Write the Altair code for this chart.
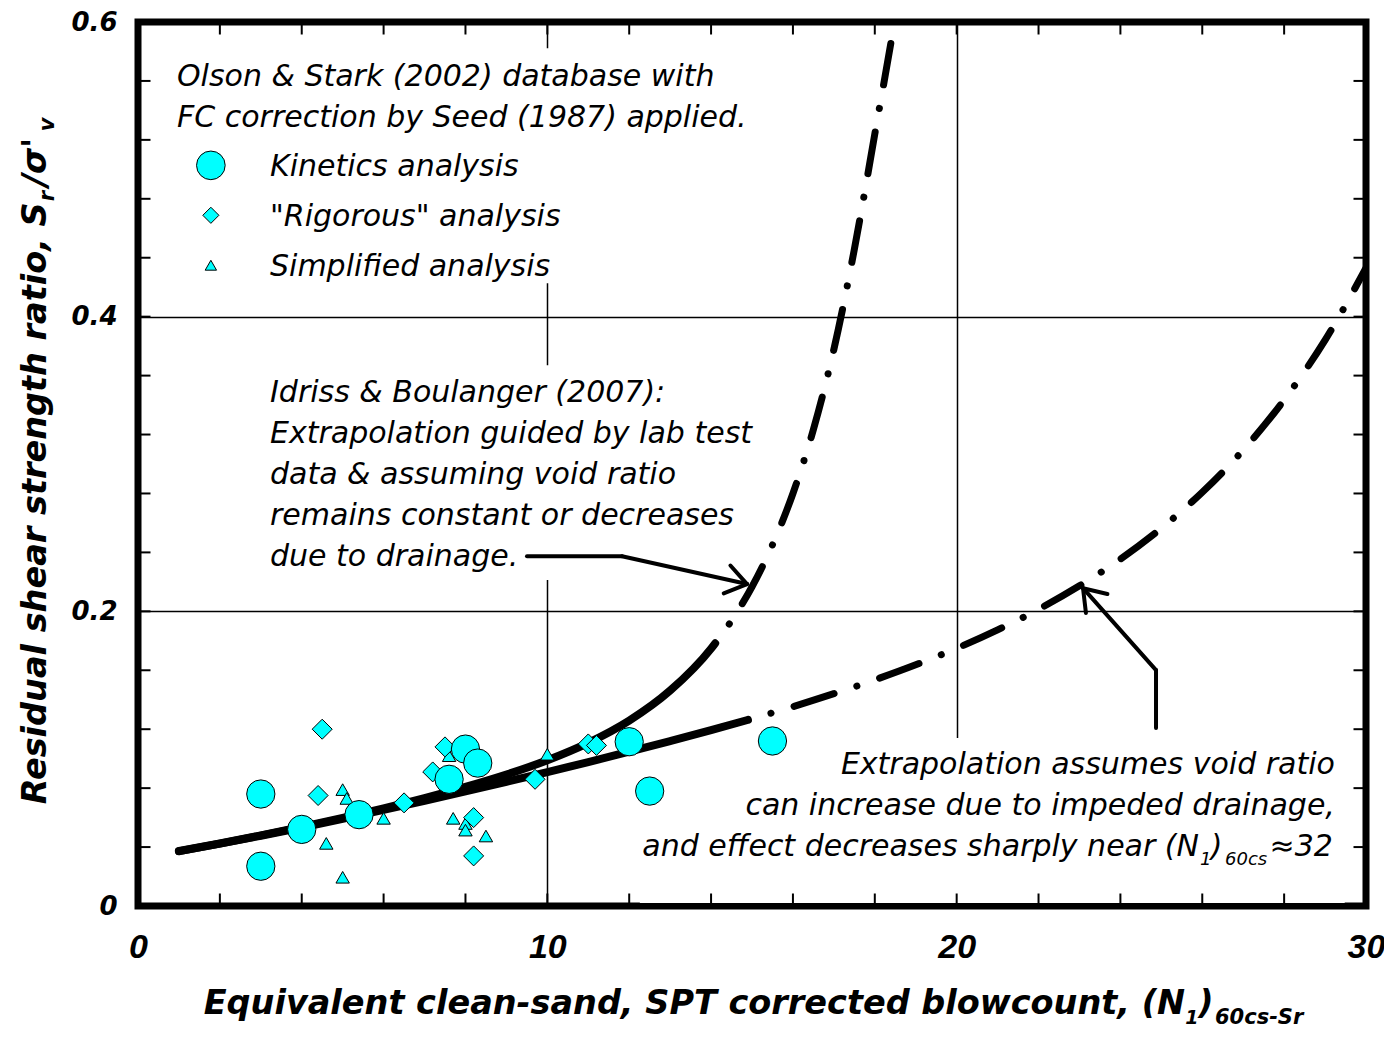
import altair as alt
import pandas as pd

# ---------------- values ----------------
series_names = ["Kinetics analysis", "\"Rigorous\" analysis", "Simplified analysis"]
series_shapes = ["circle", "diamond", "triangle-up"]

kin_x = [3.0, 3.0, 4.0, 5.4, 7.6, 8.0, 8.3, 12.0, 12.5, 15.5]
kin_y = [0.076, 0.027, 0.052, 0.062, 0.086, 0.1065, 0.097, 0.1115, 0.078, 0.112]
rig_x = [4.5, 4.4, 6.5, 7.2, 7.5, 8.2, 8.2, 9.7, 11.0, 11.2]
rig_y = [0.120, 0.075, 0.070, 0.091, 0.108, 0.060, 0.034, 0.086, 0.110, 0.109]
sim_x = [5.0, 5.1, 4.6, 5.0, 6.0, 7.6, 7.7, 8.0, 8.0, 8.5, 10.0]
sim_y = [0.079, 0.073, 0.0425, 0.0195, 0.0595, 0.102, 0.0595, 0.056, 0.0515, 0.0475, 0.103]

# Idriss & Boulanger (2007) curves
low_solid_x = [1, 2, 3, 4, 5, 6, 7, 8, 9, 10, 11, 12, 13, 14, 14.9]
low_solid_y = [0.0372, 0.0423, 0.0477, 0.0533, 0.0592, 0.0652, 0.0714, 0.0778, 0.0843,
               0.0909, 0.0977, 0.1047, 0.1119, 0.1193, 0.1263]
low_dash_x = [14.9, 16, 17, 18, 19, 20, 21, 22, 23, 24, 25, 26, 27, 28, 29, 30]
low_dash_y = [0.1263, 0.1353, 0.1441, 0.1535, 0.1637, 0.1749, 0.1874, 0.2014, 0.2173,
              0.2354, 0.2564, 0.2808, 0.3095, 0.3435, 0.3841, 0.4330]
up_solid_x = [1, 2, 3, 4, 5, 6, 7, 8, 9, 10, 11, 12, 13, 14, 14.1]
up_solid_y = [0.0373, 0.0424, 0.0479, 0.0537, 0.0598, 0.0663, 0.0732, 0.0808, 0.0892,
              0.0989, 0.1107, 0.1258, 0.1462, 0.1747, 0.1783]
up_dash_x = [14.1, 14.5, 15, 15.5, 16, 16.5, 17, 17.5, 17.75, 18, 18.25, 18.5]
up_dash_y = [0.1783, 0.1937, 0.2167, 0.2451, 0.2800, 0.3234, 0.3778, 0.4457, 0.4840,
             0.5240, 0.5630, 0.6030]

x_label_vals = [0, 10, 20, 30]
y_label_vals = [0, 0.2, 0.4, 0.6]
x_minor_ticks = [2, 4, 6, 8, 10, 12, 14, 16, 18, 20, 22, 24, 26, 28]
y_minor_ticks = [0.04, 0.08, 0.12, 0.16, 0.20, 0.24, 0.28, 0.32, 0.36, 0.40, 0.44, 0.48, 0.52, 0.56]

legend_header = ["Olson & Stark (2002) database with", "FC correction by Seed (1987) applied."]
note_ib = ["Idriss & Boulanger (2007):", "Extrapolation guided by lab test",
           "data & assuming void ratio", "remains constant or decreases", "due to drainage."]
note_ext = ["Extrapolation assumes void ratio", "can increase due to impeded drainage,"]

# ---------------- styling ----------------
FONT = "DejaVu Sans"
CYAN = "#00FFFF"
W, H = 1228, 884

xs = alt.Scale(domain=[0, 30], nice=False, zero=False)
ys = alt.Scale(domain=[0, 0.6], nice=False, zero=False)

x_axis = alt.Axis(values=x_label_vals, title=None, grid=True, gridColor="black", gridWidth=1.5,
                  gridOpacity=1, ticks=False, domain=False, labelFont="Liberation Sans",
                  labelFontSize=34, labelFontWeight="bold", labelFontStyle="italic",
                  labelColor="black", labelPadding=24, labelFlush=False,
                  labelExpr="format(datum.value, 'd')")
y_axis = alt.Axis(values=y_label_vals, title=None, grid=True, gridColor="black", gridWidth=1.5,
                  gridOpacity=1, ticks=False, domain=False, labelFont="DejaVu Sans",
                  labelFontSize=26, labelFontWeight="bold", labelFontStyle="italic",
                  labelColor="black", labelPadding=21, labelFlush=False,
                  labelExpr="datum.value == 0 ? '0' : format(datum.value, '.1f')")

X = alt.X("N:Q", scale=xs, axis=x_axis)
Y = alt.Y("Sr:Q", scale=ys, axis=y_axis)
SHAPE = alt.Shape("series:N", scale=alt.Scale(domain=series_names, range=series_shapes), legend=None)

# ---------------- white boxes behind the text blocks (hide grid lines) ----------------
box_rows = [
    (0.66, 0.5821, 15.2, 0.4227),
    (2.98, 0.3670, 15.0, 0.2212),
    (12.26, 0.1140, 29.48, 0.0020),
]
boxes = alt.Chart(pd.DataFrame(box_rows, columns=["N", "Sr", "N2", "Sr2"])).mark_rect(
    color="white", opacity=1).encode(x=X, y=Y, x2="N2:Q", y2="Sr2:Q")

# ---------------- points ----------------
pts = pd.DataFrame({
    "N": sim_x + rig_x + kin_x,
    "Sr": sim_y + rig_y + kin_y,
    "series": [series_names[2]] * len(sim_x) + [series_names[1]] * len(rig_x) + [series_names[0]] * len(kin_x),
    "msize": [180] * len(sim_x) + [400] * len(rig_x) + [800] * len(kin_x),
})

points = alt.Chart(pts).mark_point(filled=True, fill=CYAN, stroke="black", strokeWidth=1,
                                   opacity=1).encode(
    x=X, y=Y, shape=SHAPE, size=alt.Size("msize:Q", scale=None))

# legend (symbols + labels) drawn inside the plot, as in the figure
leg_df = pd.DataFrame({
    "series": series_names,
    "N": [1.78, 1.78, 1.78],
    "Sr": [0.5027, 0.4688, 0.4349],
    "msize": [820, 260, 130],
})
leg_sym = alt.Chart(leg_df).mark_point(filled=True, fill=CYAN, stroke="black", strokeWidth=1,
                                       opacity=1).encode(
    x=X, y=Y, shape=SHAPE, size=alt.Size("msize:Q", scale=None))

# ---------------- curves ----------------
def cdf(x, y, name):
    return pd.DataFrame({"N": x, "Sr": y, "curve": name})

solid_df = pd.concat([cdf(low_solid_x, low_solid_y, "low"), cdf(up_solid_x, up_solid_y, "up")])
dash_df = pd.concat([cdf(low_dash_x, low_dash_y, "low"), cdf(up_dash_x, up_dash_y, "up")])

solid = alt.Chart(solid_df).mark_line(color="black", strokeWidth=8, strokeCap="round",
                                      strokeJoin="round", interpolate="monotone", clip=True).encode(
    x=X, y=Y, detail="curve:N")
dashed = alt.Chart(dash_df).mark_line(color="black", strokeWidth=7, strokeCap="round",
                                      strokeJoin="round", interpolate="monotone", clip=True,
                                      strokeDash=[42, 24, 0.1, 24], strokeDashOffset=42).encode(
    x=X, y=Y, detail="curve:N")

# ---------------- inward ticks ----------------
tlx, tly = 12.5 / W * 30, 12.5 / H * 0.6
tick_rows = []
for v in x_minor_ticks:
    tick_rows.append((v, 0, v, tly))
    tick_rows.append((v, 0.6, v, 0.6 - tly))
for v in y_minor_ticks:
    tick_rows.append((0, v, tlx, v))
    tick_rows.append((30, v, 30 - tlx, v))
ticks_df = pd.DataFrame(tick_rows, columns=["N", "Sr", "N2", "Sr2"])
ticks = alt.Chart(ticks_df).mark_rule(color="black", strokeWidth=2).encode(
    x=X, y=Y, x2="N2:Q", y2="Sr2:Q")

# ---------------- arrows ----------------
arrow_rows = [
    (9.503, 0.2374, 11.824, 0.2374), (11.824, 0.2374, 14.878, 0.2185),
    (14.473, 0.2311, 14.878, 0.2185), (14.309, 0.2122, 14.878, 0.2185),
    (24.870, 0.1208, 24.870, 0.1601), (24.870, 0.1601, 23.087, 0.2157),
    (23.158, 0.1988, 23.087, 0.2157), (23.683, 0.2118, 23.087, 0.2157),
]
arrows = alt.Chart(pd.DataFrame(arrow_rows, columns=["N", "Sr", "N2", "Sr2"])).mark_rule(
    color="black", strokeWidth=4, strokeCap="round").encode(x=X, y=Y, x2="N2:Q", y2="Sr2:Q")

# ---------------- texts ----------------
def txt(rows, align="left", size=30, weight="normal", angle=0, dy=0):
    df = pd.DataFrame(rows, columns=["label", "N", "Sr"])
    return alt.Chart(df).mark_text(align=align, baseline="alphabetic", font=FONT, fontSize=size,
                                   fontStyle="italic", fontWeight=weight, color="black",
                                   angle=angle, dy=dy, clip=False).encode(x=X, y=Y, text="label:N")

hdr = txt([(legend_header[0], 0.953, 0.5563), (legend_header[1], 0.953, 0.5285)])
leg_lab = txt([(s, 3.225, yy) for s, yy in zip(series_names, [0.4953, 0.4613, 0.4274])])
ib = txt([(s, 3.225, yy) for s, yy in zip(note_ib, [0.3419, 0.3141, 0.2863, 0.2585, 0.2307])])
ext = txt([(note_ext[0], 29.24, 0.0896), (note_ext[1], 29.24, 0.0617),
           ("\u224832", 29.19, 0.0339)], align="right")
ext3 = txt([("and effect decreases sharply near (N", 25.92, 0.0339)], align="right")
ext3p = txt([(")", 26.21, 0.0339)])
ext3s = txt([("1", 25.945, 0.0278), ("60cs", 26.555, 0.0278)], size=18)

xt_main = txt([("Equivalent clean-sand, SPT corrected blowcount, (N", 25.58, -0.0733)],
              align="right", size=33.5, weight="bold")
xt_par = txt([(")", 25.90, -0.0733)], size=33.5, weight="bold")
xt_sub = txt([("1", 25.585, -0.0801)], size=19, weight="bold")
xt_sub2 = txt([("60cs-Sr", 26.31, -0.0801)], size=21, weight="bold")

yt_main = txt([("Residual shear strength ratio, S", -2.2476, 0.4776)], align="right", size=33.5,
              weight="bold", angle=270)
yt_sig = txt([("/\u03c3'", -2.2476, 0.4885)], size=33.5, weight="bold", angle=270)
yt_sub = txt([("r", -2.2476, 0.4783), ("v", -2.2476, 0.5258)], size=21, weight="bold",
             angle=270, dy=8)

chart = alt.layer(
    boxes, ticks, solid, dashed, points, leg_sym, arrows, hdr, leg_lab, ib, ext, ext3, ext3p,
    ext3s, xt_main, xt_par, xt_sub, xt_sub2, yt_main, yt_sig, yt_sub,
).properties(
    width=W, height=H,
    autosize=alt.AutoSizeParams(type="none"),
    padding={"left": 130, "top": 14, "right": 18, "bottom": 124},
    background="white",
).configure_view(stroke="black", strokeWidth=7)

chart.save("out.html", embed_options={"renderer": "svg", "actions": False})
